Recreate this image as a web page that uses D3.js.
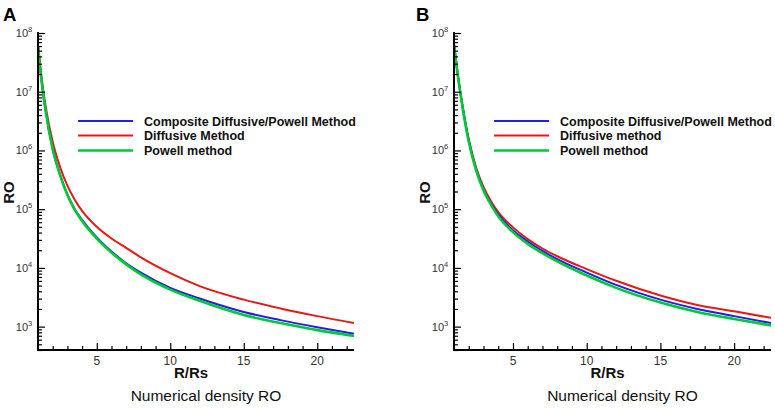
<!DOCTYPE html>
<html><head><meta charset="utf-8">
<script src="https://cdn.jsdelivr.net/npm/d3@7"></script>
<style>
html,body{margin:0;padding:0;background:#fff;}
svg{display:block;font-family:"Liberation Sans",Arial,sans-serif;}
</style></head>
<body>
<svg id="chart" width="775" height="408"></svg>
<script>
// ---- data ----
const radius = [1, 1.25, 1.5, 2, 2.5, 3, 3.5, 4, 5, 6, 7, 8, 10, 12, 15, 17.5, 20, 22.5];

// Panel A
const aComposite = [6.03e7, 1.48e7, 5.13e6, 1.07e6, 3.89e5, 1.78e5, 1.00e5, 6.61e4, 3.31e4, 1.91e4, 1.20e4, 8.32e3, 4.57e3, 3.02e3, 1.78e3, 1.29e3, 977, 759];
const aDiffusive = [6.17e7, 1.66e7, 6.03e6, 1.41e6, 5.25e5, 2.51e5, 1.45e5, 9.33e4, 5.01e4, 3.16e4, 2.19e4, 1.51e4, 8.13e3, 4.90e3, 2.88e3, 2.04e3, 1.51e3, 1.15e3];
const aPowell = [6.03e7, 1.48e7, 5.01e6, 1.05e6, 3.80e5, 1.74e5, 9.77e4, 6.31e4, 3.16e4, 1.82e4, 1.15e4, 7.76e3, 4.27e3, 2.75e3, 1.58e3, 1.15e3, 871, 692];

// Panel B
const bComposite = [6.31e7, 2.00e7, 7.41e6, 1.48e6, 4.79e5, 2.19e5, 1.26e5, 8.13e4, 4.37e4, 2.82e4, 1.95e4, 1.41e4, 8.32e3, 5.13e3, 2.88e3, 2.00e3, 1.51e3, 1.15e3];
const bDiffusive = [6.46e7, 2.04e7, 7.76e6, 1.55e6, 5.13e5, 2.40e5, 1.38e5, 8.91e4, 4.90e4, 3.09e4, 2.14e4, 1.58e4, 9.55e3, 6.03e3, 3.39e3, 2.34e3, 1.82e3, 1.41e3];
const bPowell = [6.31e7, 1.95e7, 7.24e6, 1.41e6, 4.57e5, 2.09e5, 1.20e5, 7.59e4, 4.07e4, 2.57e4, 1.78e4, 1.29e4, 7.41e3, 4.57e3, 2.57e3, 1.78e3, 1.35e3, 1.05e3];

const aLegend = ["Composite Diffusive/Powell Method", "Diffusive Method", "Powell method"];
const bLegend = ["Composite Diffusive/Powell Method", "Diffusive method", "Powell method"];
const xTicks = [5, 10, 15, 20];
const yTickExps = [3, 4, 5, 6, 7, 8];
const xDomain = [1, 22.5];
const yDomain = [400, 1e8];

const colors = {composite: "#1f1fe6", diffusive: "#e61919", powell: "#00c836"};
const widths = {composite: 2, diffusive: 2, powell: 2.6};

const svg = d3.select("#chart");

function panel(cfg) {
  const g = svg.append("g");
  const x = d3.scaleLinear().domain(xDomain).range([cfg.left, cfg.right]);
  const y = d3.scaleLog().domain(yDomain).range([cfg.bottom, cfg.top]);
  const clipId = "clip" + cfg.letter;
  svg.append("clipPath").attr("id", clipId).append("rect")
    .attr("x", cfg.left).attr("y", cfg.top - 2)
    .attr("width", cfg.right - cfg.left).attr("height", cfg.bottom - cfg.top + 2);

  // series
  const series = [
    {key: "diffusive", vals: cfg.diffusive},
    {key: "composite", vals: cfg.composite},
    {key: "powell", vals: cfg.powell}
  ];
  const line = d3.line().x((d, i) => x(radius[i])).y(d => y(d)).curve(d3.curveMonotoneX);
  series.forEach(s => {
    g.append("path").datum(s.vals)
      .attr("d", line)
      .attr("clip-path", `url(#${clipId})`)
      .attr("fill", "none")
      .attr("stroke", colors[s.key])
      .attr("stroke-width", widths[s.key])
      .attr("stroke-linejoin", "round");
  });

  // y axis (ticks inside)
  const yVals = d3.range(2, 8).flatMap(e => d3.range(1, 10).map(m => m * Math.pow(10, e)))
    .filter(v => v >= yDomain[0] && v <= yDomain[1]).concat([1e8]);
  const yAxis = d3.axisRight(y).tickValues(yVals).tickSize(0).tickFormat("");
  const ya = g.append("g").attr("transform", `translate(${cfg.left},0)`).call(yAxis);
  ya.select(".domain").remove();
  ya.selectAll(".tick line")
    .attr("x2", d => (Math.abs(Math.log10(d) - Math.round(Math.log10(d))) < 1e-9) ? 7 : 4)
    .attr("stroke", "#000").attr("stroke-width", 1.2);

  // x axis (ticks inside)
  const xAxis = d3.axisTop(x).tickValues(d3.range(2, 23)).tickSize(0).tickFormat("");
  const xa = g.append("g").attr("transform", `translate(0,${cfg.bottom})`).call(xAxis);
  xa.select(".domain").remove();
  xa.selectAll(".tick line")
    .attr("y2", d => (d % 5 === 0) ? -7 : -4)
    .attr("stroke", "#000").attr("stroke-width", 1.2);

  // axis lines
  g.append("line").attr("x1", cfg.left).attr("x2", cfg.left).attr("y1", cfg.top - 1).attr("y2", cfg.bottom + 1)
    .attr("stroke", "#000").attr("stroke-width", 2);
  g.append("line").attr("x1", cfg.left - 1).attr("x2", cfg.right).attr("y1", cfg.bottom).attr("y2", cfg.bottom)
    .attr("stroke", "#000").attr("stroke-width", 2);

  // x tick labels
  xTicks.forEach(t => {
    g.append("text").attr("x", x(t)).attr("y", cfg.bottom + 15)
      .attr("text-anchor", "middle").attr("font-size", 12).attr("fill", "#333").text(t);
  });
  // y tick labels
  yTickExps.forEach(e => {
    const t = g.append("text").attr("x", cfg.left - 14).attr("y", y(Math.pow(10, e)) + 4)
      .attr("text-anchor", "middle").attr("font-size", 11).attr("fill", "#333");
    t.append("tspan").text("10");
    t.append("tspan").attr("dy", -5).attr("font-size", 7.5).text(e);
  });

  // axis titles
  const cx = (cfg.left + cfg.right) / 2;
  g.append("text").attr("x", cx - 5).attr("y", cfg.bottom + 28)
    .attr("text-anchor", "middle").attr("font-size", 15).attr("font-weight", "bold").attr("fill", "#111").text("R/Rs");
  g.append("text").attr("x", cx + 10).attr("y", cfg.bottom + 51)
    .attr("text-anchor", "middle").attr("font-size", 15.5).attr("fill", "#111").text("Numerical density RO");
  g.append("text").attr("transform", `translate(${cfg.left - 24},${(cfg.top + cfg.bottom) / 2 + 1}) rotate(-90)`)
    .attr("text-anchor", "middle").attr("font-size", 15).attr("font-weight", "bold").attr("fill", "#111").text("RO");

  // panel letter
  g.append("text").attr("x", cfg.letterX).attr("y", 21)
    .attr("font-size", 18.5).attr("font-weight", "bold").attr("fill", "#000").text(cfg.letter);

  // legend
  const keys = ["composite", "diffusive", "powell"];
  const ly = [121, 135.5, 150.5];
  keys.forEach((k, i) => {
    g.append("line").attr("x1", cfg.left + 40).attr("x2", cfg.left + 95)
      .attr("y1", ly[i]).attr("y2", ly[i])
      .attr("stroke", colors[k]).attr("stroke-width", widths[k]);
    g.append("text").attr("x", cfg.left + 106).attr("y", ly[i] + 4.5)
      .attr("font-size", 12.5).attr("font-weight", "bold").attr("fill", "#111").text(cfg.legend[i]);
  });
}

panel({letter: "A", letterX: 3, left: 38, right: 354, top: 33, bottom: 350,
  composite: aComposite, diffusive: aDiffusive, powell: aPowell, legend: aLegend});
panel({letter: "B", letterX: 416, left: 454, right: 771, top: 33, bottom: 350,
  composite: bComposite, diffusive: bDiffusive, powell: bPowell, legend: bLegend});
</script>
</body></html>
